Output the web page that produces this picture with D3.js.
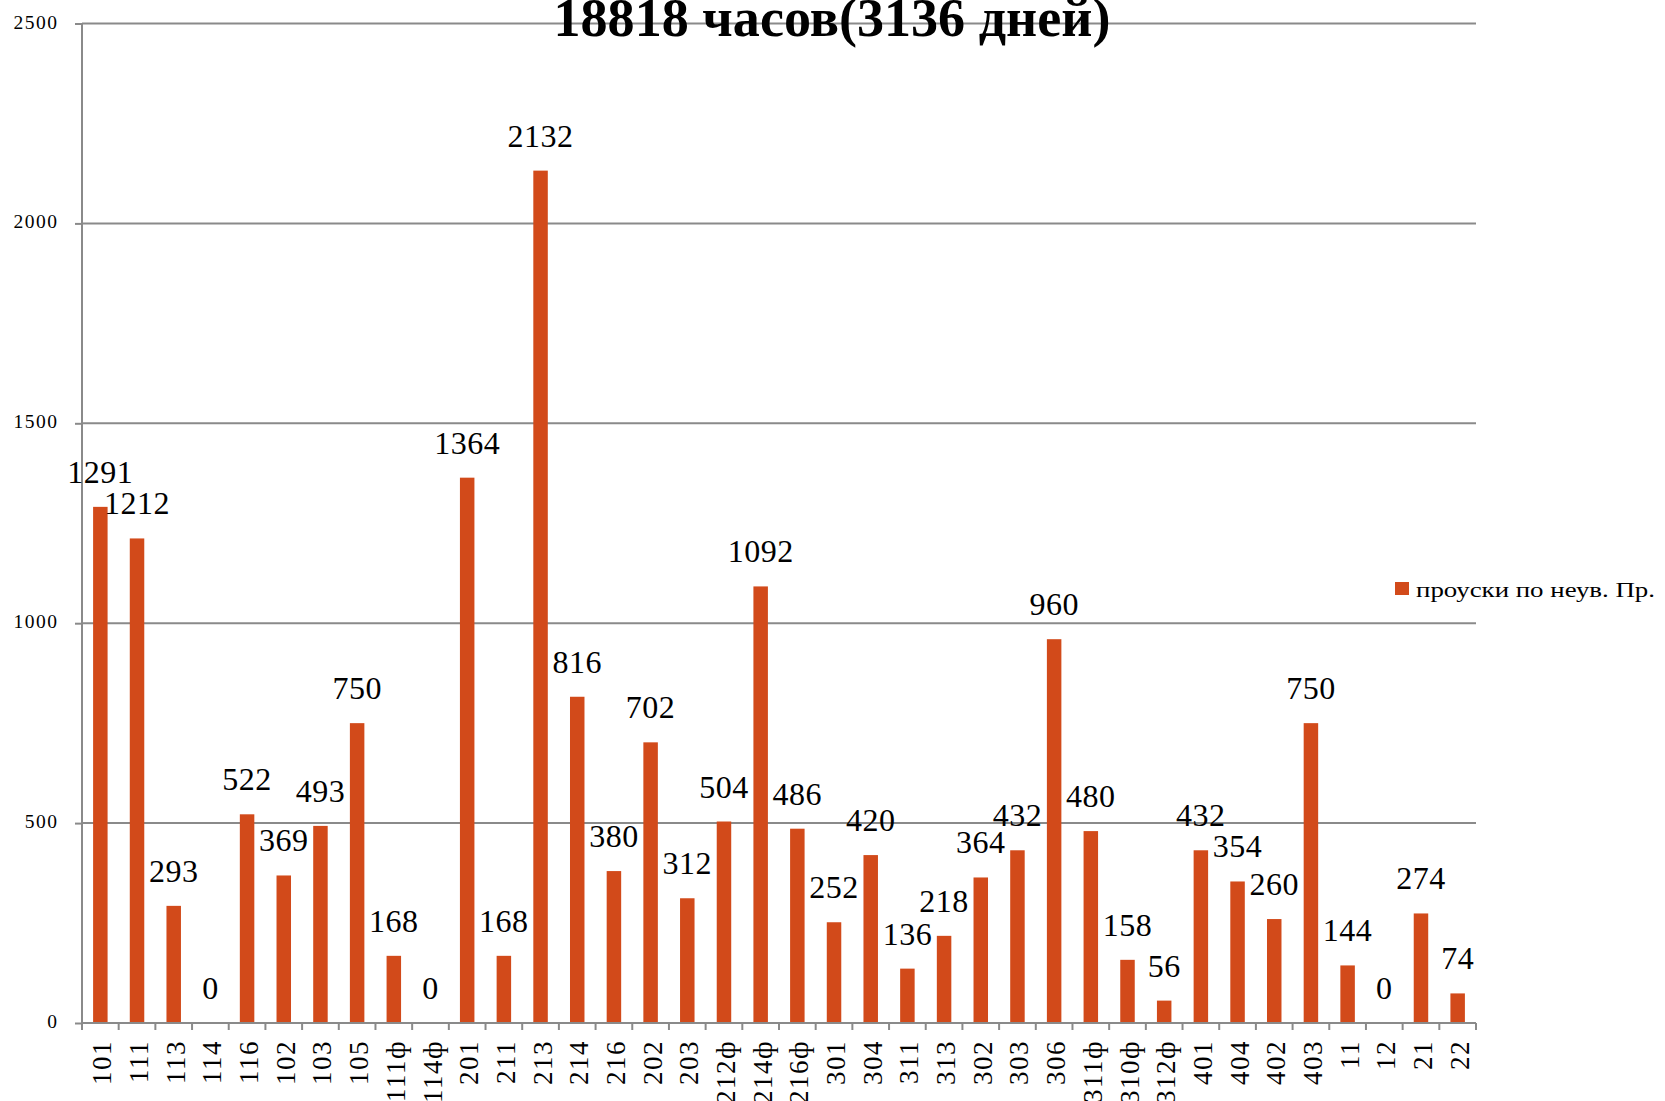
<!DOCTYPE html>
<html>
<head>
<meta charset="utf-8">
<script src="https://cdn.jsdelivr.net/npm/d3@7"></script>
<style>
html,body{margin:0;padding:0;background:#fff;overflow:hidden;}
svg{display:block;}
</style>
</head>
<body>
<script>
const categories = ["101","111","113","114","116","102","103","105","111ф","114ф","201","211","213","214","216","202","203","212ф","214ф","216ф","301","304","311","313","302","303","306","311ф","310ф","312ф","401","404","402","403","11","12","21","22"];
const values = [1291,1212,293,0,522,369,493,750,168,0,1364,168,2132,816,380,702,312,504,1092,486,252,420,136,218,364,432,960,480,158,56,432,354,260,750,144,0,274,74];
const yTicks = [0,500,1000,1500,2000,2500];
const seriesName = "проуски по неув. Пр.";
const titleText = "18818 часов(3136 дней)";

(function () {
const W = 1665, H = 1101;
const pLeft = 82, pRight = 1476, pTop = 23.5, pBottom = 1023;
const barColor = "#d24a1a";
const gridColor = "#8a8a8a";
const serif = "'Liberation Serif','Times New Roman',serif";

const svg = d3.select("body").append("svg").attr("width", W).attr("height", H);
svg.append("rect").attr("width", W).attr("height", H).attr("fill", "#fff");

const x = d3.scaleBand().domain(categories).range([pLeft, pRight]).padding(0);
const y = d3.scaleLinear().domain([0, 2500]).range([pBottom, pTop]);
const barW = x.bandwidth() * 0.395;

// gridlines
svg.append("g").selectAll("line").data(yTicks.filter(d => d > 0)).join("line")
  .attr("x1", pLeft).attr("x2", pRight)
  .attr("y1", d => y(d)).attr("y2", d => y(d))
  .attr("stroke", gridColor).attr("stroke-width", 2);

// y axis
const yAxis = d3.axisLeft(y).tickValues(yTicks).tickSize(7).tickPadding(0).tickFormat(d3.format("d"));
const gy = svg.append("g").attr("transform", `translate(${pLeft},0)`).call(yAxis);
gy.select(".domain").attr("stroke", gridColor).attr("stroke-width", 2).attr("d", `M0,${pTop}V${pBottom}`);
gy.selectAll(".tick line").attr("stroke", gridColor).attr("stroke-width", 2);
gy.selectAll(".tick text")
  .attr("x", -23.5).attr("dy", null).attr("y", 4.5)
  .attr("font-family", serif).attr("font-size", 19.5)
  .attr("letter-spacing", 1.5).attr("fill", "#000").attr("text-anchor", "end");

// bars
svg.append("g").selectAll("rect").data(values).join("rect")
  .attr("x", (d, i) => x(categories[i]) + (x.bandwidth() - barW) / 2)
  .attr("y", d => y(d))
  .attr("width", barW)
  .attr("height", d => y(0) - y(d))
  .attr("fill", barColor);

// x axis
const xAxis = d3.axisBottom(x).tickSize(0).tickFormat("");
const gx = svg.append("g").attr("transform", `translate(0,${pBottom})`).call(xAxis);
gx.select(".domain").attr("stroke", gridColor).attr("stroke-width", 2).attr("d", `M${pLeft},0H${pRight}`);
gx.selectAll(".tick").remove();
// boundary ticks
const bounds = categories.map(c => x(c)).concat([pRight]);
svg.append("g").selectAll("line").data(bounds).join("line")
  .attr("x1", d => d).attr("x2", d => d)
  .attr("y1", pBottom).attr("y2", pBottom + 7)
  .attr("stroke", gridColor).attr("stroke-width", 2);

// x labels rotated
svg.append("g").selectAll("text").data(categories).join("text")
  .attr("transform", d => `translate(${x(d) + x.bandwidth() / 2 + 11},${pBottom + 17}) rotate(-90)`)
  .attr("text-anchor", "end")
  .attr("font-family", serif).attr("font-size", 27).attr("letter-spacing", 1.5).attr("fill", "#000")
  .text(d => d);

// data labels
svg.append("g").selectAll("text").data(values).join("text")
  .attr("x", (d, i) => x(categories[i]) + x.bandwidth() / 2)
  .attr("y", d => y(d) - 24)
  .attr("text-anchor", "middle")
  .attr("font-family", serif).attr("font-size", 32).attr("letter-spacing", 0.5).attr("fill", "#000")
  .text(d => d);

// title
svg.append("text")
  .attr("x", 832).attr("y", 36)
  .attr("text-anchor", "middle")
  .attr("font-family", serif).attr("font-weight", "bold").attr("font-size", 54)
  .attr("textLength", 557).attr("lengthAdjust", "spacingAndGlyphs")
  .attr("fill", "#000")
  .text(titleText);

// legend
const lg = svg.append("g");
lg.append("rect").attr("x", 1395).attr("y", 582).attr("width", 14).attr("height", 13).attr("fill", barColor);
lg.append("text").attr("x", 1416).attr("y", 597)
  .attr("font-family", serif).attr("font-size", 22).attr("fill", "#000")
  .attr("textLength", 239).attr("lengthAdjust", "spacingAndGlyphs")
  .text(seriesName);
})();
</script>
</body>
</html>
